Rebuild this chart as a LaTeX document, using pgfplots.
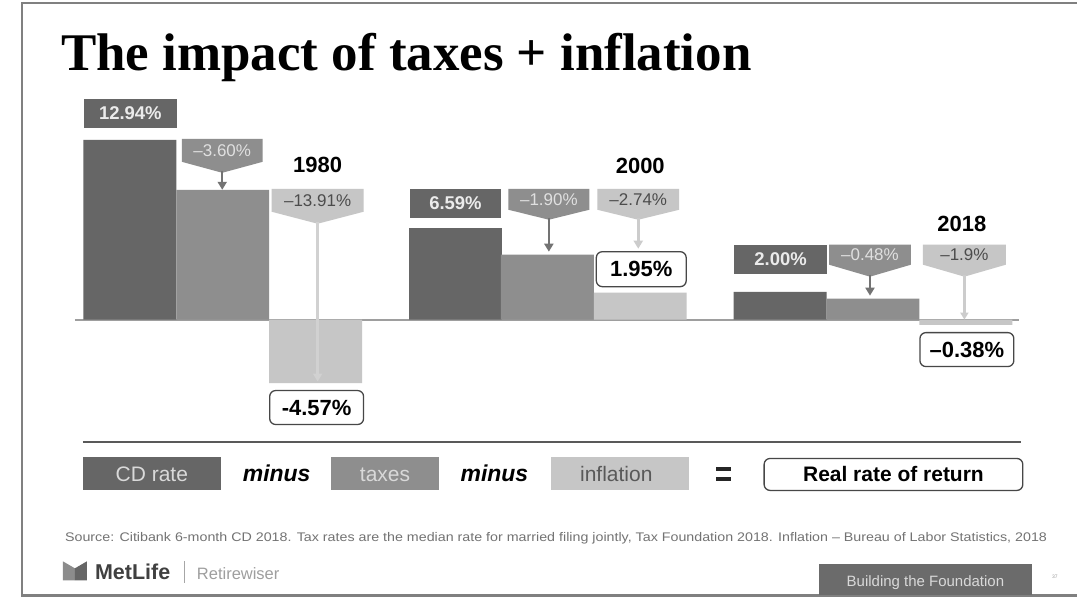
\documentclass[border=0pt]{standalone}
\usepackage{pgfplots}
\pgfplotsset{compat=1.18}
\usepackage{pgfplotstable}
\usepackage{graphicx}
\usepackage{fontspec}
\setmainfont{Liberation Sans}
\newfontfamily\titlefont{Liberation Serif}
\usetikzlibrary{arrows.meta}

\definecolor{cdc}{HTML}{666666}
\definecolor{txc}{HTML}{8E8E8E}
\definecolor{inc}{HTML}{C6C6C6}
\definecolor{framec}{HTML}{808080}

% bar centre (px) and value (%)
\pgfplotstableread{
x y
130 12.94
456 6.59
781 2.00
}\cdtable
\pgfplotstableread{
x y
223 9.34
548 4.69
874 1.52
}\taxtable
\pgfplotstableread{
x y
316 -4.57
641 1.95
967 -0.38
}\inftable

\newcommand{\fs}[1]{\fontsize{#1}{#1}\selectfont}
% callout: xl, xr, ytop, ybody, ypoint, fill, textcolor, text
\newcommand{\callout}[8]{%
  \fill[#6] (#1,#3) -- (#2,#3) -- (#2,#4) -- ({(#1+#2)/2},#5) -- (#1,#4) -- cycle;
  \node[text=#7, font=\fs{17}, inner sep=0pt] at ({(#1+#2)/2},{(#3+#4)/2}) {#8};
}
\newcommand{\resbox}[5]{% xl xr yt yb text
  \draw[rounded corners=6pt, draw=black!72, line width=1.3pt, fill=white] (#1,#3) rectangle (#2,#4);
  \node[font=\bfseries\fs{22}, inner sep=0pt] at ({(#1+#2)/2},{(#3+#4)/2}) {#5};
}

\begin{document}
\begin{tikzpicture}
\begin{scope}[x=1pt,y=-1pt,yshift=607pt]
  \fill[white] (0,0) rectangle (1078,607);
  \useasboundingbox (0,0) rectangle (1078,607);
\end{scope}

\begin{axis}[at={(0,0)}, anchor=south west, scale only axis,
  width=1078pt, height=607pt,
  xmin=0, xmax=1078, ymin=-20.647, ymax=23.022,
  hide axis, clip=false]
  \addplot[black!38, line width=2pt, mark=none] coordinates {(75,0) (1020,0)};
  \addplot[ybar, bar width=93, bar shift=0pt, draw=none, fill=cdc] table {\cdtable};
  \addplot[ybar, bar width=93, bar shift=0pt, draw=none, fill=txc] table {\taxtable};
  \addplot[ybar, bar width=93, bar shift=0pt, draw=none, fill=inc] table {\inftable};
\end{axis}

\begin{scope}[x=1pt,y=-1pt,yshift=607pt]
  % frame
  \draw[framec, line width=2.5pt] (1078,3) -- (22,3) -- (22,596) -- (1078,596);
  % title
  \node[anchor=base west, inner sep=0pt, font=\titlefont\bfseries\fs{53}] at (61,71) {The impact of taxes + inflation};

  % ---------- 1980
  \fill[cdc] (84,99) rectangle (177,128);
  \node[text=white!92!black, font=\bfseries\fs{18.5}, inner sep=0pt] at (130.5,113.5) {12.94\%};
  \callout{182}{263}{139}{162}{173}{txc}{white!88!black}{–3.60\%}
  \draw[black!55, line width=2.5pt, -{Triangle[length=8pt,width=9pt]}] (222.5,171) -- (222.5,190);
  \node[font=\bfseries\fs{22}, inner sep=0pt] at (318,165) {1980};
  \callout{272}{364}{189}{212}{224}{inc}{black!70}{–13.91\%}
  \draw[black!18, line width=2.5pt, -{Triangle[length=8pt,width=9pt]}] (318,222) -- (318,382);
  \resbox{270}{364}{391}{425}{-4.57\%}

  % ---------- 2000
  \fill[cdc] (410,189) rectangle (502,218);
  \node[text=white!92!black, font=\bfseries\fs{18.5}, inner sep=0pt] at (456,203.5) {6.59\%};
  \callout{509}{590}{189}{210}{220}{txc}{white!88!black}{–1.90\%}
  \draw[black!55, line width=2.5pt, -{Triangle[length=8pt,width=9pt]}] (549.5,218) -- (549.5,252);
  \node[font=\bfseries\fs{22}, inner sep=0pt] at (641,166) {2000};
  \callout{598}{680}{189}{210}{220}{inc}{black!70}{–2.74\%}
  \draw[black!20, line width=2.5pt, -{Triangle[length=8pt,width=9pt]}] (639,218) -- (639,249);
  \resbox{597}{687}{252}{287}{1.95\%}

  % ---------- 2018
  \fill[cdc] (735,245) rectangle (828,274);
  \node[text=white!92!black, font=\bfseries\fs{18.5}, inner sep=0pt] at (781.5,259.5) {2.00\%};
  \callout{830}{912}{245}{265}{277}{txc}{white!88!black}{–0.48\%}
  \draw[black!55, line width=2.5pt, -{Triangle[length=8pt,width=9pt]}] (871,275) -- (871,296);
  \node[font=\bfseries\fs{22}, inner sep=0pt] at (963,224) {2018};
  \callout{924}{1007}{245}{265}{277}{inc}{black!70}{–1.9\%}
  \draw[black!20, line width=2.5pt, -{Triangle[length=7pt,width=8pt]}] (965.5,275) -- (965.5,320);
  \resbox{921}{1015}{333}{367}{–0.38\%}

  % separator
  \draw[black!65, line width=2pt] (83,443) -- (1022,443);

  % legend row
  \fill[cdc] (83,458) rectangle (221,491);
  \node[anchor=base, inner sep=0pt, text=white!85!black, font=\fs{21}] at (152,482) {CD rate};
  \node[anchor=base, inner sep=0pt, font=\bfseries\itshape\fs{23}] at (277,482) {minus};
  \fill[txc] (331,458) rectangle (440,491);
  \node[anchor=base, inner sep=0pt, text=white!85!black, font=\fs{21}] at (385.5,482) {taxes};
  \node[anchor=base, inner sep=0pt, font=\bfseries\itshape\fs{23}] at (495,482) {minus};
  \fill[inc] (552,458) rectangle (690,491);
  \node[anchor=base, inner sep=0pt, text=black!65, font=\fs{21}] at (617,482) {inflation};
  \fill[black!85] (717,467.5) rectangle (732,471.5);
  \fill[black!85] (717,477.5) rectangle (732,481.5);
  \draw[rounded corners=6pt, draw=black!72, line width=1.3pt, fill=white] (765,459) rectangle (1024,491);
  \node[anchor=base, inner sep=0pt, font=\bfseries\fs{21}] at (894.5,482) {Real rate of return};

  % source
  \node[anchor=base west, inner sep=0pt, text=black!55] at (65,542)
    {\resizebox{983pt}{\height}{\fs{12.5}Source: Citibank 6-month CD 2018. Tax rates are the median rate for married filing jointly, Tax Foundation 2018. Inflation – Bureau of Labor Statistics, 2018}};

  % footer
  \fill[black!45] (63,562) -- (75,569) -- (75,581) -- (63,581) -- cycle;
  \fill[black!60] (75,569) -- (87,562) -- (87,581) -- (75,581) -- cycle;
  \node[anchor=base west, inner sep=0pt, text=black!75, font=\bfseries\fs{21.5}] at (95,580) {MetLife};
  \draw[black!35, line width=1pt] (185,562) -- (185,584);
  \node[anchor=base west, inner sep=0pt, text=black!38, font=\fs{16.5}] at (197,580) {Retirewiser};
  \fill[black!58] (820,565) rectangle (1033,596);
  \node[text=white!85!black, font=\fs{15}] at (926.5,583) {Building the Foundation};
  \node[text=black!40, font=\fs{5}] at (1056,577) {37};
\end{scope}
\end{tikzpicture}
\end{document}
